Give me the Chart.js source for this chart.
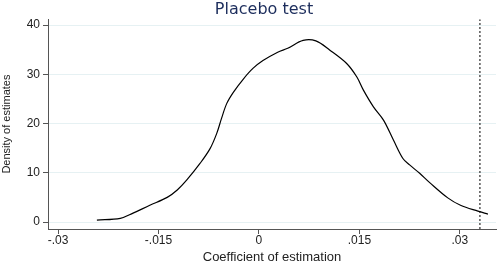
<!DOCTYPE html>
<html>
<head>
<meta charset="utf-8">
<script src="https://cdn.jsdelivr.net/npm/chart.js@4/dist/chart.umd.min.js"></script>
<style>
  html, body { margin: 0; padding: 0; background: #fff; }
  #wrap { width: 498px; height: 262px; position: relative; }
</style>
</head>
<body>
<div id="wrap"><canvas id="chart"></canvas></div>
<script>
// coefficient values (x) and kernel density (y)
const coefValues = [-0.0242, -0.0207, -0.0188, -0.0163, -0.0137, -0.0122, -0.0108, -0.0088, -0.0073, -0.0063, -0.0056, -0.0048,
  -0.0038, -0.0023, -0.0009, 0.0006, 0.0028, 0.0043, 0.0066, 0.0085, 0.0106, 0.0131, 0.0146, 0.0156, 0.0171, 0.0186,
  0.0201, 0.0215, 0.0225, 0.0240, 0.0255, 0.0282, 0.0301, 0.0327, 0.0342]
const densityValues = [0.4, 0.75, 1.8, 3.4, 5.0, 6.5, 8.5, 11.9, 14.9, 18.0, 21.0, 24.1,
  26.4, 29.1, 31.2, 32.8, 34.5, 35.3, 36.9, 36.8, 34.9, 32.2, 29.5, 26.8, 23.4, 20.7,
  16.6, 12.9, 11.6, 9.9, 8.0, 4.9, 3.4, 2.2, 1.6]
const trueEstimate = 0.033
const xTicks = [-0.03, -0.015, 0, 0.015, 0.03]
const xTickLabels = ["-.03", "-.015", "0", ".015", ".03"]
const yTicks = [0, 10, 20, 30, 40]

const X_MIN = -0.0315, X_MAX = 0.0354
const Y_MIN = -1.42, Y_MAX = 41.2
const font = "'Liberation Sans', Arial, sans-serif"

const densityPoints = coefValues.map((x, i) => ({ x: x, y: densityValues[i] }))

// nudge the title a bit left of the plot centre, like the original
const titleShift = {
  id: "titleShift",
  afterLayout(chart) {
    if (chart.titleBlock) {
      chart.titleBlock.left -= 8
      chart.titleBlock.right -= 8
    }
  },
}

new Chart(document.getElementById("chart"), {
  type: "line",
  data: {
    datasets: [
      {
        data: densityPoints,
        borderColor: "#000",
        borderWidth: 1.2,
        pointRadius: 0,
        tension: 0.35,
        fill: false,
      },
      {
        data: [{ x: trueEstimate, y: Y_MIN }, { x: trueEstimate, y: Y_MAX }],
        borderColor: "#000",
        borderWidth: 1,
        borderDash: [2, 2],
        pointRadius: 0,
        fill: false,
      },
    ],
  },
  plugins: [titleShift],
  options: {
    responsive: true,
    maintainAspectRatio: false,
    animation: false,
    layout: { padding: { left: 0, right: 2, top: 0, bottom: 0 } },
    plugins: {
      legend: { display: false },
      tooltip: { enabled: false },
      title: {
        display: true,
        text: "Placebo test",
        color: "#1c2d5c",
        fullSize: false,
        font: { family: "'DejaVu Sans', sans-serif", size: 16, weight: "normal" },
        padding: { top: 0, bottom: 0 },
      },
    },
    scales: {
      x: {
        type: "linear",
        min: X_MIN,
        max: X_MAX,
        afterBuildTicks: (axis) => { axis.ticks = xTicks.map((v) => ({ value: v })) },
        afterFit: (axis) => { axis.height = 33 },
        border: { color: "#555", width: 1 },
        grid: { drawOnChartArea: false, drawTicks: true, tickLength: 5, tickColor: "#555" },
        ticks: {
          color: "#222",
          padding: -1,
          maxRotation: 0,
          font: { family: font, size: 12 },
          callback: (v) => xTickLabels[xTicks.indexOf(v)],
        },
        title: {
          display: true,
          text: "Coefficient of estimation",
          color: "#222",
          font: { family: font, size: 13 },
          padding: { top: 0, bottom: -3 },
        },
      },
      y: {
        type: "linear",
        min: Y_MIN,
        max: Y_MAX,
        afterBuildTicks: (axis) => { axis.ticks = yTicks.map((v) => ({ value: v })) },
        afterFit: (axis) => { axis.width = 48 },
        border: { color: "#555", width: 1 },
        grid: { color: "#e6f1f3", lineWidth: 1, tickLength: 5, tickColor: "#555" },
        ticks: {
          color: "#222",
          padding: 3,
          font: { family: font, size: 12 },
        },
        title: {
          display: true,
          text: "Density of estimates",
          color: "#222",
          font: { family: font, size: 11 },
          padding: { top: 0, bottom: 0 },
        },
      },
    },
  },
})
</script>
</body>
</html>
